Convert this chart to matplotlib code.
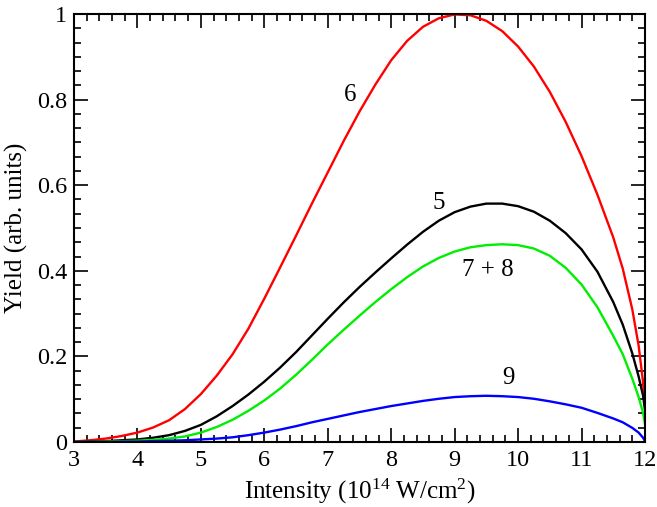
import matplotlib
matplotlib.use("Agg")
import matplotlib.pyplot as plt
from matplotlib.ticker import MultipleLocator

plt.rcParams['font.family'] = ['Liberation Serif', 'DejaVu Serif']
plt.rcParams['mathtext.fontset'] = 'custom'
plt.rcParams['mathtext.rm'] = 'Liberation Serif'
plt.rcParams['mathtext.it'] = 'Liberation Serif:italic'

# intensity grid (10^14 W/cm^2)
intensity = [3.0, 3.25, 3.5, 3.75, 4.0, 4.25, 4.5, 4.75, 5.0, 5.25, 5.5, 5.75,
             6.0, 6.25, 6.5, 6.75, 7.0, 7.25, 7.5, 7.75, 8.0, 8.25, 8.5, 8.75,
             9.0, 9.25, 9.5, 9.75, 10.0, 10.25, 10.5, 10.75, 11.0, 11.25, 11.5,
             11.65, 11.8, 11.9, 11.97, 12.0]

# yields
yield_6 = [0.001, 0.004, 0.008, 0.014, 0.022, 0.034, 0.051, 0.077, 0.112, 0.155,
           0.205, 0.265, 0.335, 0.408, 0.482, 0.557, 0.630, 0.703, 0.772, 0.835,
           0.892, 0.937, 0.970, 0.990, 0.999, 0.997, 0.984, 0.960, 0.924, 0.877,
           0.818, 0.748, 0.668, 0.578, 0.478, 0.405, 0.310, 0.225, 0.140, 0.085]
yield_5 = [0.0, 0.001, 0.002, 0.004, 0.006, 0.010, 0.016, 0.026, 0.040, 0.060,
           0.084, 0.111, 0.141, 0.174, 0.210, 0.249, 0.288, 0.326, 0.362, 0.396,
           0.429, 0.461, 0.491, 0.517, 0.537, 0.550, 0.557, 0.557, 0.551, 0.538,
           0.517, 0.488, 0.450, 0.398, 0.327, 0.274, 0.207, 0.153, 0.108, 0.075]
yield_78 = [0.0, 0.0, 0.001, 0.002, 0.003, 0.005, 0.008, 0.013, 0.022, 0.035,
            0.052, 0.073, 0.097, 0.125, 0.157, 0.192, 0.228, 0.262, 0.295, 0.327,
            0.357, 0.385, 0.410, 0.430, 0.445, 0.455, 0.460, 0.462, 0.460, 0.452,
            0.435, 0.407, 0.368, 0.315, 0.248, 0.205, 0.148, 0.105, 0.068, 0.042]
yield_9 = [0.0, 0.0, 0.0, 0.001, 0.001, 0.002, 0.003, 0.004, 0.006, 0.008,
           0.011, 0.016, 0.022, 0.029, 0.037, 0.046, 0.054, 0.062, 0.070, 0.077,
           0.084, 0.090, 0.096, 0.101, 0.105, 0.107, 0.108, 0.107, 0.105, 0.101,
           0.095, 0.088, 0.080, 0.068, 0.055, 0.046, 0.033, 0.022, 0.010, 0.002]

labels = ["6", "5", "7 + 8", "9"]
label_pos = [(7.36, 0.81), (8.75, 0.558), (9.52, 0.402), (9.85, 0.149)]

fig = plt.figure(figsize=(6.57, 5.07), dpi=100)
ax = fig.add_axes([0.1126, 0.1282, 0.8691, 0.8442])

ax.plot(intensity, yield_6, color='#ff0000', lw=1.7)
ax.plot(intensity, yield_5, color='black', lw=1.7)
ax.plot(intensity, yield_78, color='#00ee00', lw=1.7)
ax.plot(intensity, yield_9, color='#0000ff', lw=1.7)

for txt, (x, y) in zip(labels, label_pos):
    ax.text(x, y, txt, fontsize=18, ha='center', va='center')

ax.set_xlim(3, 12)
ax.set_ylim(0, 1)
ax.xaxis.set_major_locator(MultipleLocator(1))
ax.xaxis.set_minor_locator(MultipleLocator(0.2))
ax.yaxis.set_minor_locator(MultipleLocator(0.2 / 6))
ax.set_yticks([0, 0.2, 0.4, 0.6, 0.8, 1.0])
ax.set_yticklabels(["0", "0.2", "0.4", "0.6", "0.8", "1"])

ax.tick_params(which='both', direction='in', top=True, right=True, labelsize=17.5, width=1.2)
ax.tick_params(which='major', length=10)
ax.tick_params(which='minor', length=5)
ax.tick_params(axis='x', which='major', pad=6)
ax.tick_params(axis='y', which='major', pad=5)
for s in ax.spines.values():
    s.set_linewidth(1.5)

ax.set_xlabel(r"Intensity (10$^{14}$ W/cm$^{2}$)", fontsize=18, labelpad=4)
ax.set_ylabel("Yield (arb. units)", fontsize=18, labelpad=6)

fig.savefig("out.png", dpi=100)
